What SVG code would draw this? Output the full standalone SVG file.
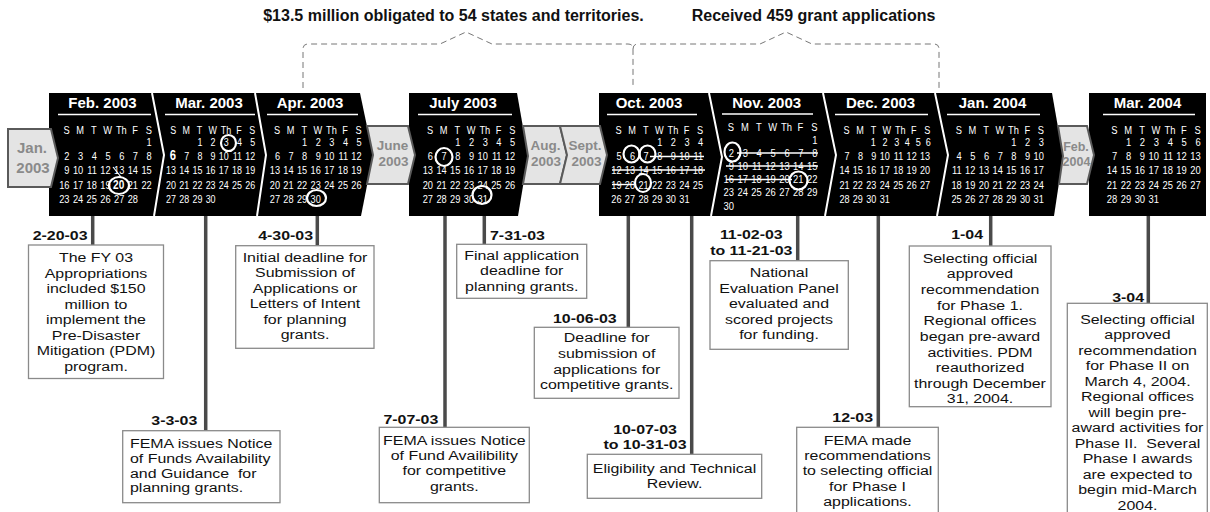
<svg xmlns="http://www.w3.org/2000/svg" xmlns:xlink="http://www.w3.org/1999/xlink" width="1210" height="512" viewBox="0 0 1210 512">
<style>
.blk{fill:#000}
.sep{fill:none;stroke:#fff;stroke-width:2}
.gb{fill:#e4e4e4;stroke:#5a5a5a;stroke-width:2}
.gt{font-family:"Liberation Sans",Arial,sans-serif;font-weight:bold;fill:#8a8a8a;text-anchor:middle;font-size:13.5px}
.mt{font-family:"Liberation Sans",Arial,sans-serif;font-weight:bold;font-size:15px;fill:#fff;text-anchor:middle}
.ul{stroke:#fff;stroke-width:1.5}
.dow,.num{font-family:"Liberation Sans",Arial,sans-serif;font-size:11.5px;fill:#fff}
.dow{text-anchor:middle}
.num{text-anchor:end}
.circ{fill:none;stroke:#fff;stroke-width:2.2}
.strk{stroke:#fff;stroke-width:1.4}
.conn{stroke:#4a4a4a;stroke-width:3.5}
.brace{fill:none;stroke:#777;stroke-width:1;stroke-dasharray:6 4}
.box{fill:#fff;stroke:#8a8a8a;stroke-width:1.3}
.bt{font-family:"Liberation Sans",Arial,sans-serif;font-size:13.5px;fill:#111;text-anchor:middle}
.bl{text-anchor:start}
.lb{font-family:"Liberation Sans",Arial,sans-serif;font-weight:bold;font-size:13.5px;fill:#111}
.top{font-family:"Liberation Sans",Arial,sans-serif;font-weight:bold;font-size:16px;fill:#111;text-anchor:middle}
</style>
<defs>
<text id="dow" class="dow"><tspan x="-3.7">S</tspan><tspan x="13.3">M</tspan><tspan x="30.3">T</tspan><tspan x="47.3">W</tspan><tspan x="64.3">Th</tspan><tspan x="81.3">F</tspan><tspan x="98.3">S</tspan></text>
</defs>

<!-- top annotations -->
<g id="top-notes">
<text class="top" x="453.5" y="21">$13.5 million obligated to 54 states and territories.</text>
<text class="top" x="813.5" y="21">Received 459 grant applications</text>
</g>

<!-- black calendar bands -->
<g id="bands">
<polygon class="blk" points="49,93 360,93 373,155 361,216 49,216"/>
<polygon class="blk" points="409,93 517,93 528,156 518,216 409,216"/>
<polygon class="blk" points="599,93 1052,93 1063,156 1054,216 599,216"/>
<polygon class="blk" points="1089,93 1206,93 1206,216 1089,216"/>
<polyline class="sep" points="152,93 164,155 154,216"/>
<polyline class="sep" points="255,93 266,155 257,216"/>
<polyline class="sep" points="709,93 722,157 711,216"/>
<polyline class="sep" points="823,93 836,155 825,216"/>
<polyline class="sep" points="935,93 948,155 937,216"/>
</g>

<!-- gray months -->
<g id="m-jan03"><polygon class="gb" points="8,129 51,129 58,158 51,187 8,187"/><text class="gt" x="32" y="153" style="font-size:15px">Jan.</text><text class="gt" x="33" y="173" style="font-size:15px">2003</text></g>
<g id="m-jun03"><polygon class="gb" points="367,126 408,126 415,155 408,184 367,184 373,155"/><text class="gt" x="392.5" y="150">June</text><text class="gt" x="393.5" y="166">2003</text></g>
<g id="m-aug03"><polygon class="gb" points="523,126 560,126 567,155 560,184 523,184 528,156"/><text class="gt" x="545.5" y="150">Aug.</text><text class="gt" x="546" y="166">2003</text></g>
<g id="m-sep03"><polygon class="gb" points="560,126 600,126 607,155 600,184 560,184 567,155"/><text class="gt" x="585" y="150">Sept.</text><text class="gt" x="586.5" y="166">2003</text></g>
<g id="m-feb04"><polygon class="gb" points="1058,126 1087,126 1094,155 1087,184 1059,184 1063,156"/><text class="gt" x="1076" y="151" style="font-size:12.5px">Feb.</text><text class="gt" x="1076.5" y="166" style="font-size:12.5px">2004</text></g>

<!-- calendars -->
<g id="cal-feb03">
<text class="mt" x="102.5" y="108">Feb. 2003</text><line class="ul" x1="58" y1="114.5" x2="151" y2="114.5"/>
<g transform="translate(69.5,0) scale(0.806,1)">
<use xlink:href="#dow" y="134"/>
<text class="num" y="146.5"><tspan x="102">1</tspan></text>
<text class="num" y="160.5"><tspan x="0">2</tspan><tspan x="17">3</tspan><tspan x="34">4</tspan><tspan x="51">5</tspan><tspan x="68">6</tspan><tspan x="85">7</tspan><tspan x="102">8</tspan></text>
<text class="num" y="174.5"><tspan x="0">9</tspan><tspan x="17">10</tspan><tspan x="34">11</tspan><tspan x="51">12</tspan><tspan x="68">13</tspan><tspan x="85">14</tspan><tspan x="102">15</tspan></text>
<text class="num" y="189"><tspan x="0">16</tspan><tspan x="17">17</tspan><tspan x="34">18</tspan><tspan x="51">19</tspan><tspan x="68" font-weight="bold" font-size="12.5">20</tspan><tspan x="85">21</tspan><tspan x="102">22</tspan></text>
<text class="num" y="203"><tspan x="0">23</tspan><tspan x="17">24</tspan><tspan x="34">25</tspan><tspan x="51">26</tspan><tspan x="68">27</tspan><tspan x="85">28</tspan></text>
</g>
<ellipse class="circ" cx="119" cy="185.5" rx="10" ry="8.5"/>
<path class="circ" d="M113,167 L121,177" style="stroke-width:1.2"/>
</g>

<g id="cal-mar03">
<text class="mt" x="209" y="108">Mar. 2003</text><line class="ul" x1="165" y1="114.5" x2="255" y2="114.5"/>
<g transform="translate(176,0) scale(0.776,1)">
<use xlink:href="#dow" y="134"/>
<text class="num" y="146.5"><tspan x="34">1</tspan><tspan x="51">2</tspan><tspan x="68">3</tspan><tspan x="85">4</tspan><tspan x="102">5</tspan></text>
<text class="num" y="160.5"><tspan x="0" font-weight="bold" font-size="14.5">6</tspan><tspan x="17">7</tspan><tspan x="34">8</tspan><tspan x="51">9</tspan><tspan x="68">10</tspan><tspan x="85">11</tspan><tspan x="102">12</tspan></text>
<text class="num" y="174.5"><tspan x="0">13</tspan><tspan x="17">14</tspan><tspan x="34">15</tspan><tspan x="51">16</tspan><tspan x="68">17</tspan><tspan x="85">18</tspan><tspan x="102">19</tspan></text>
<text class="num" y="189"><tspan x="0">20</tspan><tspan x="17">21</tspan><tspan x="34">22</tspan><tspan x="51">23</tspan><tspan x="68">24</tspan><tspan x="85">25</tspan><tspan x="102">26</tspan></text>
<text class="num" y="203"><tspan x="0">27</tspan><tspan x="17">28</tspan><tspan x="34">29</tspan><tspan x="51">30</tspan></text>
</g>
<ellipse class="circ" cx="228.5" cy="143" rx="7.5" ry="8"/>
</g>

<g id="cal-apr03">
<text class="mt" x="310" y="108">Apr. 2003</text><line class="ul" x1="267" y1="114.5" x2="358" y2="114.5"/>
<g transform="translate(280,0) scale(0.8,1)">
<use xlink:href="#dow" y="134"/>
<text class="num" y="146.5"><tspan x="34">1</tspan><tspan x="51">2</tspan><tspan x="68">3</tspan><tspan x="85">4</tspan><tspan x="102">5</tspan></text>
<text class="num" y="160.5"><tspan x="0">6</tspan><tspan x="17">7</tspan><tspan x="34">8</tspan><tspan x="51">9</tspan><tspan x="68">10</tspan><tspan x="85">11</tspan><tspan x="102">12</tspan></text>
<text class="num" y="174.5"><tspan x="0">13</tspan><tspan x="17">14</tspan><tspan x="34">15</tspan><tspan x="51">16</tspan><tspan x="68">17</tspan><tspan x="85">18</tspan><tspan x="102">19</tspan></text>
<text class="num" y="189"><tspan x="0">20</tspan><tspan x="17">21</tspan><tspan x="34">22</tspan><tspan x="51">23</tspan><tspan x="68">24</tspan><tspan x="85">25</tspan><tspan x="102">26</tspan></text>
<text class="num" y="203"><tspan x="0">27</tspan><tspan x="17">28</tspan><tspan x="34">29</tspan><tspan x="51">30</tspan></text>
</g>
<ellipse class="circ" cx="316.5" cy="198" rx="9.5" ry="8"/>
</g>

<g id="cal-jul03">
<text class="mt" x="463" y="108">July 2003</text><line class="ul" x1="418" y1="114.5" x2="512" y2="114.5"/>
<g transform="translate(433,0) scale(0.806,1)">
<use xlink:href="#dow" y="134"/>
<text class="num" y="146.5"><tspan x="34">1</tspan><tspan x="51">2</tspan><tspan x="68">3</tspan><tspan x="85">4</tspan><tspan x="102">5</tspan></text>
<text class="num" y="160.5"><tspan x="0">6</tspan><tspan x="17">7</tspan><tspan x="34">8</tspan><tspan x="51">9</tspan><tspan x="68">10</tspan><tspan x="85">11</tspan><tspan x="102">12</tspan></text>
<text class="num" y="174.5"><tspan x="0">13</tspan><tspan x="17">14</tspan><tspan x="34">15</tspan><tspan x="51">16</tspan><tspan x="68">17</tspan><tspan x="85">18</tspan><tspan x="102">19</tspan></text>
<text class="num" y="189"><tspan x="0">20</tspan><tspan x="17">21</tspan><tspan x="34">22</tspan><tspan x="51">23</tspan><tspan x="68">24</tspan><tspan x="85">25</tspan><tspan x="102">26</tspan></text>
<text class="num" y="203"><tspan x="0">27</tspan><tspan x="17">28</tspan><tspan x="34">29</tspan><tspan x="51">30</tspan><tspan x="68">31</tspan></text>
</g>
<ellipse class="circ" cx="444" cy="157" rx="8.5" ry="9"/>
<ellipse class="circ" cx="482" cy="195" rx="9.5" ry="9"/>
</g>

<g id="cal-oct03">
<text class="mt" x="649" y="108">Oct. 2003</text><line class="ul" x1="607" y1="114.5" x2="697" y2="114.5"/>
<g transform="translate(621.5,0) scale(0.8,1)">
<use xlink:href="#dow" y="134"/>
<text class="num" y="146.5"><tspan x="51">1</tspan><tspan x="68">2</tspan><tspan x="85">3</tspan><tspan x="102">4</tspan></text>
<text class="num" y="160.5"><tspan x="0">5</tspan><tspan x="17">6</tspan><tspan x="34">7</tspan><tspan x="51">8</tspan><tspan x="68">9</tspan><tspan x="85">10</tspan><tspan x="102">11</tspan></text>
<text class="num" y="174.5"><tspan x="0">12</tspan><tspan x="17">13</tspan><tspan x="34">14</tspan><tspan x="51">15</tspan><tspan x="68">16</tspan><tspan x="85">17</tspan><tspan x="102">18</tspan></text>
<text class="num" y="189"><tspan x="0">19</tspan><tspan x="17">20</tspan><tspan x="34">21</tspan><tspan x="51">22</tspan><tspan x="68">23</tspan><tspan x="85">24</tspan><tspan x="102">25</tspan></text>
<text class="num" y="203"><tspan x="0">26</tspan><tspan x="17">27</tspan><tspan x="34">28</tspan><tspan x="51">29</tspan><tspan x="68">30</tspan><tspan x="85">31</tspan></text>
</g>
<line class="strk" x1="650" y1="156.5" x2="704" y2="156.5"/>
<line class="strk" x1="612" y1="170" x2="705" y2="170"/>
<line class="strk" x1="612" y1="184.5" x2="634" y2="184.5"/>
<ellipse class="circ" cx="631.5" cy="154" rx="8" ry="8.5"/>
<ellipse class="circ" cx="647.5" cy="154" rx="8" ry="8.5"/>
<ellipse class="circ" cx="643" cy="183" rx="8" ry="9"/>
</g>

<g id="cal-nov03">
<text class="mt" x="766.7" y="108">Nov. 2003</text><line class="ul" x1="722" y1="114" x2="813" y2="114"/>
<g transform="translate(734,0) scale(0.818,1)">
<use xlink:href="#dow" y="130.5"/>
<text class="num" y="144"><tspan x="102">1</tspan></text>
<text class="num" y="157"><tspan x="0">2</tspan><tspan x="17">3</tspan><tspan x="34">4</tspan><tspan x="51">5</tspan><tspan x="68">6</tspan><tspan x="85">7</tspan><tspan x="102">8</tspan></text>
<text class="num" y="170"><tspan x="0">9</tspan><tspan x="17">10</tspan><tspan x="34">11</tspan><tspan x="51">12</tspan><tspan x="68">13</tspan><tspan x="85">14</tspan><tspan x="102">15</tspan></text>
<text class="num" y="183.5"><tspan x="0">16</tspan><tspan x="17">17</tspan><tspan x="34">18</tspan><tspan x="51">19</tspan><tspan x="68">20</tspan><tspan x="85">21</tspan><tspan x="102">22</tspan></text>
<text class="num" y="196.5"><tspan x="0">23</tspan><tspan x="17">24</tspan><tspan x="34">25</tspan><tspan x="51">26</tspan><tspan x="68">27</tspan><tspan x="85">28</tspan><tspan x="102">29</tspan></text>
<text class="num" y="210"><tspan x="0">30</tspan></text>
</g>
<line class="strk" x1="737" y1="153" x2="818" y2="153"/>
<line class="strk" x1="726" y1="166" x2="818" y2="166"/>
<line class="strk" x1="726" y1="179.5" x2="792" y2="179.5"/>
<ellipse class="circ" cx="732.5" cy="152" rx="8" ry="9.5"/>
<ellipse class="circ" cx="798.5" cy="180.5" rx="9" ry="9"/>
</g>

<g id="cal-dec03">
<text class="mt" x="880.6" y="108">Dec. 2003</text><line class="ul" x1="835" y1="114.5" x2="928" y2="114.5"/>
<g transform="translate(849.5,0) scale(0.791,1)">
<use xlink:href="#dow" y="134"/>
<text class="dow" y="146.5"><tspan x="30.1">1</tspan><tspan x="44.9">2</tspan><tspan x="59.7">3</tspan><tspan x="73.1">4</tspan><tspan x="87">5</tspan><tspan x="99.6">6</tspan></text>
<text class="num" y="160.5"><tspan x="0">7</tspan><tspan x="17">8</tspan><tspan x="34">9</tspan><tspan x="51">10</tspan><tspan x="68">11</tspan><tspan x="85">12</tspan><tspan x="102">13</tspan></text>
<text class="num" y="174.5"><tspan x="0">14</tspan><tspan x="17">15</tspan><tspan x="34">16</tspan><tspan x="51">17</tspan><tspan x="68">18</tspan><tspan x="85">19</tspan><tspan x="102">20</tspan></text>
<text class="num" y="189"><tspan x="0">21</tspan><tspan x="17">22</tspan><tspan x="34">23</tspan><tspan x="51">24</tspan><tspan x="68">25</tspan><tspan x="85">26</tspan><tspan x="102">27</tspan></text>
<text class="num" y="203"><tspan x="0">28</tspan><tspan x="17">29</tspan><tspan x="34">30</tspan><tspan x="51">31</tspan></text>
</g>
</g>

<g id="cal-jan04">
<text class="mt" x="992.5" y="108">Jan. 2004</text><line class="ul" x1="947" y1="114.5" x2="1040" y2="114.5"/>
<g transform="translate(961.7,0) scale(0.806,1)">
<use xlink:href="#dow" y="134"/>
<text class="num" y="146.5"><tspan x="68">1</tspan><tspan x="85">2</tspan><tspan x="102">3</tspan></text>
<text class="num" y="160.5"><tspan x="0">4</tspan><tspan x="17">5</tspan><tspan x="34">6</tspan><tspan x="51">7</tspan><tspan x="68">8</tspan><tspan x="85">9</tspan><tspan x="102">10</tspan></text>
<text class="num" y="174.5"><tspan x="0">11</tspan><tspan x="17">12</tspan><tspan x="34">13</tspan><tspan x="51">14</tspan><tspan x="68">15</tspan><tspan x="85">16</tspan><tspan x="102">17</tspan></text>
<text class="num" y="189"><tspan x="0">18</tspan><tspan x="17">19</tspan><tspan x="34">20</tspan><tspan x="51">21</tspan><tspan x="68">22</tspan><tspan x="85">23</tspan><tspan x="102">24</tspan></text>
<text class="num" y="203"><tspan x="0">25</tspan><tspan x="17">26</tspan><tspan x="34">27</tspan><tspan x="51">28</tspan><tspan x="68">29</tspan><tspan x="85">30</tspan><tspan x="102">31</tspan></text>
</g>
</g>

<g id="cal-mar04">
<text class="mt" x="1147.5" y="108">Mar. 2004</text><line class="ul" x1="1103" y1="114.5" x2="1195" y2="114.5"/>
<g transform="translate(1117.3,0) scale(0.818,1)">
<use xlink:href="#dow" y="134"/>
<text class="num" y="146.5"><tspan x="17">1</tspan><tspan x="34">2</tspan><tspan x="51">3</tspan><tspan x="68">4</tspan><tspan x="85">5</tspan><tspan x="102">6</tspan></text>
<text class="num" y="160.5"><tspan x="0">7</tspan><tspan x="17">8</tspan><tspan x="34">9</tspan><tspan x="51">10</tspan><tspan x="68">11</tspan><tspan x="85">12</tspan><tspan x="102">13</tspan></text>
<text class="num" y="174.5"><tspan x="0">14</tspan><tspan x="17">15</tspan><tspan x="34">16</tspan><tspan x="51">17</tspan><tspan x="68">18</tspan><tspan x="85">19</tspan><tspan x="102">20</tspan></text>
<text class="num" y="189"><tspan x="0">21</tspan><tspan x="17">22</tspan><tspan x="34">23</tspan><tspan x="51">24</tspan><tspan x="68">25</tspan><tspan x="85">26</tspan><tspan x="102">27</tspan></text>
<text class="num" y="203"><tspan x="0">28</tspan><tspan x="17">29</tspan><tspan x="34">30</tspan><tspan x="51">31</tspan></text>
</g>
</g>

<!-- connectors -->
<g id="connectors">
<path class="brace" d="M303,88 V49 Q303,44 308,44 H440 L466,32 L492,44 H628 Q633,44 633,49 V88"/>
<path class="brace" d="M633,49 Q633,44 638,44 H760 L786,32 L812,44 H934 Q939,44 939,49 V88"/>
<line class="conn" x1="92.7" y1="216" x2="92.7" y2="245"/>
<line class="conn" x1="205.7" y1="216" x2="205.7" y2="430.7"/>
<line class="conn" x1="317.3" y1="216" x2="317.3" y2="245.7"/>
<line class="conn" x1="445" y1="216" x2="445" y2="427.3"/>
<line class="conn" x1="484.3" y1="216" x2="484.3" y2="244.3"/>
<line class="conn" x1="628.3" y1="216" x2="628.3" y2="327.3"/>
<line class="conn" x1="691.7" y1="216" x2="691.7" y2="454.3"/>
<line class="conn" x1="797.7" y1="216" x2="797.7" y2="260.7"/>
<line class="conn" x1="878.3" y1="216" x2="878.3" y2="427.3"/>
<line class="conn" x1="990.7" y1="216" x2="990.7" y2="246"/>
<line class="conn" x1="1148.3" y1="216" x2="1148.3" y2="303.3"/>
</g>

<!-- event boxes -->
<g id="ev-022003">
<rect class="box" x="28.5" y="245" width="135" height="133.5"/>
<g transform="translate(87.5,240) scale(1.18,1)"><text class="lb" text-anchor="end">2-20-03</text></g>
<g transform="translate(96,0) scale(1.18,1)"><text class="bt"><tspan x="0" y="262.5">The FY 03</tspan><tspan x="0" y="278">Appropriations</tspan><tspan x="0" y="293.5">included $150</tspan><tspan x="0" y="309">million to</tspan><tspan x="0" y="324.5">implement the</tspan><tspan x="0" y="340">Pre-Disaster</tspan><tspan x="0" y="355.5">Mitigation (PDM)</tspan><tspan x="0" y="371">program.</tspan></text></g>
</g>
<g id="ev-030303">
<rect class="box" x="122.7" y="430.7" width="157.3" height="72"/>
<g transform="translate(197.3,424.5) scale(1.18,1)"><text class="lb" text-anchor="end">3-3-03</text></g>
<g transform="translate(130,0) scale(1.18,1)"><text class="bt bl"><tspan x="0" y="448">FEMA issues Notice</tspan><tspan x="0" y="463">of Funds Availability</tspan><tspan x="0" y="478">and Guidance&#160; for</tspan><tspan x="0" y="492.5">planning grants.</tspan></text></g>
</g>
<g id="ev-043003">
<rect class="box" x="235.7" y="245.7" width="138.3" height="102.6"/>
<g transform="translate(313,240) scale(1.18,1)"><text class="lb" text-anchor="end">4-30-03</text></g>
<g transform="translate(305,0) scale(1.18,1)"><text class="bt"><tspan x="0" y="262">Initial deadline for</tspan><tspan x="0" y="277.5">Submission of</tspan><tspan x="0" y="293">Applications or</tspan><tspan x="0" y="308.5">Letters of Intent</tspan><tspan x="0" y="324">for planning</tspan><tspan x="0" y="339.5">grants.</tspan></text></g>
</g>
<g id="ev-073103">
<rect class="box" x="456.7" y="244.3" width="130" height="54"/>
<g transform="translate(490,240) scale(1.18,1)"><text class="lb">7-31-03</text></g>
<g transform="translate(521.7,0) scale(1.18,1)"><text class="bt"><tspan x="0" y="260">Final application</tspan><tspan x="0" y="275.5">deadline for</tspan><tspan x="0" y="291">planning grants.</tspan></text></g>
</g>
<g id="ev-070703">
<rect class="box" x="379.3" y="427.3" width="150" height="75.4"/>
<g transform="translate(438.3,424) scale(1.18,1)"><text class="lb" text-anchor="end">7-07-03</text></g>
<g transform="translate(454.3,0) scale(1.18,1)"><text class="bt"><tspan x="0" y="445">FEMA issues Notice</tspan><tspan x="0" y="460">of Fund Availibility</tspan><tspan x="0" y="475.5">for competitive</tspan><tspan x="0" y="491">grants.</tspan></text></g>
</g>
<g id="ev-100603">
<rect class="box" x="534.3" y="327.3" width="144.7" height="71"/>
<g transform="translate(616.7,322.5) scale(1.18,1)"><text class="lb" text-anchor="end">10-06-03</text></g>
<g transform="translate(606.7,0) scale(1.18,1)"><text class="bt"><tspan x="0" y="342.5">Deadline for</tspan><tspan x="0" y="358">submission of</tspan><tspan x="0" y="374">applications for</tspan><tspan x="0" y="389.5">competitive grants.</tspan></text></g>
</g>
<g id="ev-100703">
<rect class="box" x="587.3" y="454.3" width="174.4" height="44"/>
<g transform="translate(645,0) scale(1.18,1)"><text class="lb" text-anchor="middle"><tspan x="0" y="434.5">10-07-03</tspan><tspan x="0" y="449.5">to 10-31-03</tspan></text></g>
<g transform="translate(674.5,0) scale(1.18,1)"><text class="bt"><tspan x="0" y="473">Eligibility and Technical</tspan><tspan x="0" y="488">Review.</tspan></text></g>
</g>
<g id="ev-110203">
<rect class="box" x="710" y="260.7" width="138.3" height="88.6"/>
<g transform="translate(751.3,0) scale(1.18,1)"><text class="lb" text-anchor="middle"><tspan x="0" y="239.5">11-02-03</tspan><tspan x="0" y="255">to 11-21-03</tspan></text></g>
<g transform="translate(779,0) scale(1.18,1)"><text class="bt"><tspan x="0" y="277.5">National</tspan><tspan x="0" y="293">Evaluation Panel</tspan><tspan x="0" y="308.5">evaluated and</tspan><tspan x="0" y="324">scored projects</tspan><tspan x="0" y="339.5">for funding.</tspan></text></g>
</g>
<g id="ev-1203">
<rect class="box" x="796.7" y="427.3" width="141.6" height="90"/>
<g transform="translate(873,422) scale(1.18,1)"><text class="lb" text-anchor="end">12-03</text></g>
<g transform="translate(867.5,0) scale(1.18,1)"><text class="bt"><tspan x="0" y="445">FEMA made</tspan><tspan x="0" y="460">recommendations</tspan><tspan x="0" y="475.5">to selecting official</tspan><tspan x="0" y="491">for Phase I</tspan><tspan x="0" y="506.5">applications.</tspan></text></g>
</g>
<g id="ev-0104">
<rect class="box" x="909.3" y="246" width="141.7" height="160.7"/>
<g transform="translate(983,239) scale(1.18,1)"><text class="lb" text-anchor="end">1-04</text></g>
<g transform="translate(980,0) scale(1.18,1)"><text class="bt"><tspan x="0" y="262.7">Selecting official</tspan><tspan x="0" y="278.3">approved</tspan><tspan x="0" y="294">recommendation</tspan><tspan x="0" y="309.7">for Phase 1.</tspan><tspan x="0" y="325.3">Regional offices</tspan><tspan x="0" y="341">began pre-award</tspan><tspan x="0" y="356.7">activities. PDM</tspan><tspan x="0" y="372.3">reauthorized</tspan><tspan x="0" y="388">through December</tspan><tspan x="0" y="403.5">31, 2004.</tspan></text></g>
</g>
<g id="ev-0304">
<rect class="box" x="1067.3" y="303.3" width="140" height="214"/>
<g transform="translate(1144,301.5) scale(1.18,1)"><text class="lb" text-anchor="end">3-04</text></g>
<g transform="translate(1137.5,0) scale(1.18,1)"><text class="bt"><tspan x="0" y="324">Selecting official</tspan><tspan x="0" y="339.5">approved</tspan><tspan x="0" y="355">recommendation</tspan><tspan x="0" y="370.5">for Phase II on</tspan><tspan x="0" y="386">March 4, 2004.</tspan><tspan x="0" y="401.5">Regional offices</tspan><tspan x="0" y="417">will begin pre-</tspan><tspan x="0" y="432.5">award activities for</tspan><tspan x="0" y="448">Phase II.&#160; Several</tspan><tspan x="0" y="463.5">Phase I awards</tspan><tspan x="0" y="479">are expected to</tspan><tspan x="0" y="494.5">begin mid-March</tspan><tspan x="0" y="510">2004.</tspan></text></g>
</g>
</svg>
